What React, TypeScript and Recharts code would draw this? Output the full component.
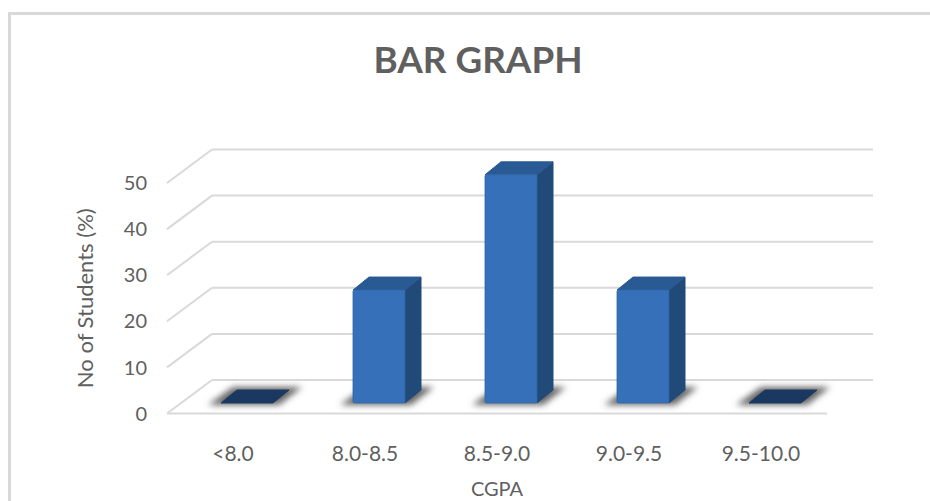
import { BarChart, Bar, XAxis, YAxis, CartesianGrid } from 'recharts'

const categories = ['<8.0', '8.0-8.5', '8.5-9.0', '9.0-9.5', '9.5-10.0']
const students = [0, 24.5, 49.5, 24.5, 0]
const yTicks = [0, 10, 20, 30, 40, 50]

const chartData = categories.map((cgpa, i) => ({ cgpa, students: students[i] }))

const gridColor = '#d9d9d9'
const textColor = '#5f5f5f'
const fontFamily = 'Lato, sans-serif'

// Depth of the fake 3D floor, and how far into it the bars stand
const floorDx = 45
const floorDy = -33.5
const barDx = 14
const barDy = -10.5
const sideDx = 16
const sideDy = -13

function WallLine({ x1, x2, y1 }: any) {
  return (
    <g stroke={gridColor} strokeWidth={2} fill="none">
      <line x1={x1} y1={y1} x2={x1 + floorDx} y2={y1 + floorDy} />
      <line x1={x1 + floorDx} y1={y1 + floorDy} x2={x2 + floorDx + 1} y2={y1 + floorDy} />
    </g>
  )
}

function Bar3D({ x, y, width, height }: any) {
  const l = x + barDx
  const r = l + width
  const t = y + barDy
  const b = t + height
  const pts = (p: number[][]) => p.map(q => q.join(',')).join(' ')
  const shadow = pts([[l - 13, b + 2], [r + 6, b + 2], [r + sideDx + 13, b + sideDy - 3], [l + sideDx - 4, b + sideDy - 3]])

  if (height < 1) {
    return (
      <g>
        <polygon points={shadow} fill="#666666" filter="url(#floorBlur)" />
        <polygon
          points={pts([[l, b], [r, b], [r + sideDx, b + sideDy], [l + sideDx, b + sideDy]])}
          fill="#1a3860"
          stroke="#1a3860"
          strokeWidth={1}
          strokeLinejoin="round"
        />
      </g>
    )
  }

  return (
    <g strokeLinejoin="round" strokeWidth={1}>
      <polygon points={shadow} fill="#666666" filter="url(#floorBlur)" />
      <polygon
        points={pts([[r, t], [r + sideDx, t + sideDy], [r + sideDx, b + sideDy], [r, b]])}
        fill="#214a78"
        stroke="#214a78"
      />
      <polygon
        points={pts([[l, t], [l + sideDx, t + sideDy], [r + sideDx, t + sideDy], [r, t]])}
        fill="#2a5a94"
        stroke="#2a5a94"
      />
      <rect x={l} y={t} width={width} height={height} rx={1.5} fill="#3670b8" stroke="#2f66aa" strokeWidth={0.8} />
    </g>
  )
}

export default function App() {
  return (
    <div style={{ position: 'absolute', left: 0, top: 0, width: 930, height: 501, overflow: 'hidden', background: '#fff' }}>
      {/* Frame: only the top and left edges show in the reference */}
      <div style={{ position: 'absolute', left: 8, top: 12, width: 960, height: 520, borderTop: `3px solid ${gridColor}`, borderLeft: `3px solid ${gridColor}` }} />
      <div style={{ position: 'absolute', left: 0, top: 37, width: 956, textAlign: 'center', fontFamily, fontWeight: 700, fontSize: 36.8, color: textColor }}>
        BAR GRAPH
      </div>

      <BarChart
        width={930}
        height={501}
        data={chartData}
        margin={{ top: 183, right: 103, bottom: 0, left: 67 }}
        style={{ position: 'absolute', left: 0, top: 0 }}
      >
        <defs>
          <filter id="floorBlur" x="-30%" y="-60%" width="160%" height="220%">
            <feGaussianBlur stdDeviation="3" />
          </filter>
        </defs>
        <CartesianGrid vertical={false} horizontal={(props: any) => <WallLine key={props.index} {...props} />} />
        <XAxis
          dataKey="cgpa"
          interval={0}
          height={87.5}
          axisLine={{ stroke: gridColor, strokeWidth: 2 }}
          tickLine={false}
          tickMargin={27}
          tick={{ fill: textColor, fontSize: 21, fontFamily }}
          label={{ value: 'CGPA', position: 'insideBottom', offset: 5, fill: textColor, fontSize: 20, fontFamily }}
        />
        <YAxis
          domain={[0, 50]}
          ticks={yTicks}
          width={100}
          axisLine={false}
          tickLine={false}
          tickMargin={14}
          tick={{ fill: textColor, fontSize: 20, fontFamily }}
          label={{ value: 'No of Students (%)', angle: -90, position: 'insideLeft', offset: 18, textAnchor: 'middle', fill: textColor, fontSize: 22, fontFamily }}
        />
        <Bar dataKey="students" barSize={52} shape={Bar3D} isAnimationActive={false} />
      </BarChart>
    </div>
  )
}
